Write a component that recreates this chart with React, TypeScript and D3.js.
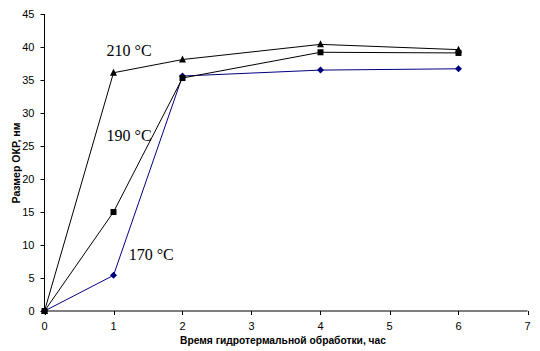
import React from "react";
import * as d3 from "d3";

const hours = [0, 1, 2, 4, 6];
const s170 = [0, 5.4, 35.6, 36.5, 36.7];
const s190 = [0, 15, 35.3, 39.2, 39.1];
const s210 = [0, 36.1, 38.1, 40.4, 39.6];
const xTicks = [0, 1, 2, 3, 4, 5, 6, 7];
const yTicks = [0, 5, 10, 15, 20, 25, 30, 35, 40, 45];
const seriesLabels = ["170 °C", "190 °C", "210 °C"];

export default function App() {
  const W = 540, H = 351;
  const x = d3.scaleLinear().domain([0, 7]).range([44.5, 527.5]);
  const y = d3.scaleLinear().domain([0, 45]).range([311, 14]);
  const line = d3.line<number>().x((_, i) => x(hours[i])).y((v) => y(v));
  const series = [
    { data: s170, color: "#000080", marker: "diamond", label: seriesLabels[0], lx: 1.22, ly: 7.8 },
    { data: s190, color: "#000000", marker: "square", label: seriesLabels[1], lx: 0.9, ly: 25.8 },
    { data: s210, color: "#000000", marker: "triangle", label: seriesLabels[2], lx: 0.9, ly: 38.6 },
  ];
  const marker = (type: string, cx: number, cy: number, color: string, key: string) => {
    if (type === "diamond") {
      const r = 3.5;
      return <path key={key} d={`M${cx},${cy - r}L${cx + r},${cy}L${cx},${cy + r}L${cx - r},${cy}Z`} fill={color} />;
    }
    if (type === "square") {
      return <rect key={key} x={cx - 3} y={cy - 3} width={6} height={6} fill={color} />;
    }
    return <path key={key} d={`M${cx},${cy - 4}L${cx + 3.5},${cy + 3}L${cx - 3.5},${cy + 3}Z`} fill={color} />;
  };
  return (
    <svg width={W} height={H} style={{ position: "absolute", left: 0, top: 0, background: "#fff" }}>
      <rect width={W} height={H} fill="#fff" />
      <line x1={x(0)} x2={x(0)} y1={y(45)} y2={y(0)} stroke="#000" strokeWidth={1} />
      <line x1={x(0)} x2={x(7)} y1={y(0)} y2={y(0)} stroke="#000" strokeWidth={1} />
      {yTicks.map((t) => (
        <g key={"y" + t}>
          <line x1={x(0) - 4} x2={x(0)} y1={Math.round(y(t)) + 0.5} y2={Math.round(y(t)) + 0.5} stroke="#000" />
          <text x={x(0) - 10} y={y(t)} dy="0.35em" textAnchor="end" fontFamily="Liberation Sans, Arial, sans-serif" fontSize={11} fill="#000">{t}</text>
        </g>
      ))}
      {xTicks.map((t) => (
        <g key={"x" + t}>
          <line x1={Math.round(x(t)) + 0.5} x2={Math.round(x(t)) + 0.5} y1={y(0)} y2={y(0) + 4} stroke="#000" />
          <text x={x(t)} y={y(0) + 19} textAnchor="middle" fontFamily="Liberation Sans, Arial, sans-serif" fontSize={11} fill="#000">{t}</text>
        </g>
      ))}
      <text x={180} y={344} textLength={206} lengthAdjust="spacingAndGlyphs" fontFamily="Liberation Sans, Arial, sans-serif" fontSize={10.5} fontWeight="bold" fill="#000">Время гидротермальной обработки, час</text>
      <text transform="translate(20,163) rotate(-90)" textAnchor="middle" textLength={81} lengthAdjust="spacingAndGlyphs" fontFamily="Liberation Sans, Arial, sans-serif" fontSize={10} fontWeight="bold" fill="#000">Размер ОКР, нм</text>
      {series.map((s, si) => (
        <g key={"s" + si}>
          <path d={line(s.data) || ""} fill="none" stroke={s.color} strokeWidth={1} />
          {s.data.map((v, i) => marker(s.marker, x(hours[i]), y(v), s.color, `m${si}-${i}`))}
          <text x={x(s.lx)} y={y(s.ly)} fontFamily="Liberation Serif, Times New Roman, serif" fontSize={16} fill="#000">{s.label}</text>
        </g>
      ))}
    </svg>
  );
}
